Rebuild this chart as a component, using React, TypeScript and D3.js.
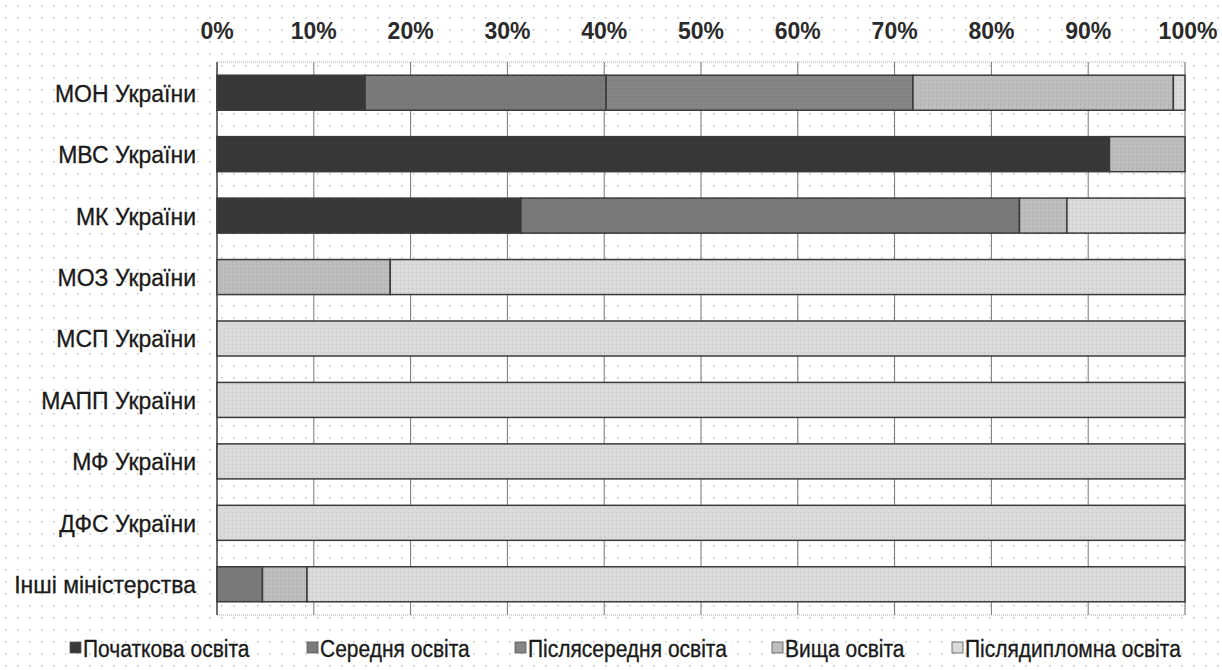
import React from "react";
import * as d3 from "d3";

const categories = [
  "МОН України",
  "МВС України",
  "МК України",
  "МОЗ України",
  "МСП України",
  "МАПП України",
  "МФ України",
  "ДФС України",
  "Інші міністерства",
];

const seriesNames = [
  "Початкова освіта",
  "Середня освіта",
  "Післясередня освіта",
  "Вища освіта",
  "Післядипломна освіта",
];

// shares, % of each ministry
const primary = [15.3, 92.2, 31.4, 0, 0, 0, 0, 0, 0];
const secondary = [24.9, 0, 51.5, 0, 0, 0, 0, 0, 4.7];
const postSecondary = [31.7, 0, 0, 0, 0, 0, 0, 0, 0];
const higher = [26.9, 7.8, 4.9, 17.9, 0, 0, 0, 0, 4.6];
const postGraduate = [1.2, 0, 12.2, 82.1, 100, 100, 100, 100, 90.7];

const tickValues = [0, 10, 20, 30, 40, 50, 60, 70, 80, 90, 100];

const colors = ["#383838", "#7a7a7a", "#858585", "#bdbdbd", "#dadada"];
const legendX = [70, 307, 515, 772, 952];

const W = 1222;
const H = 670;
const font = "'Liberation Sans', Arial, sans-serif";

export default function App() {
  const x = d3.scaleLinear().domain([0, 100]).range([217, 1185]);
  const y = d3
    .scaleBand<string>()
    .domain(categories)
    .range([62, 615])
    .paddingInner(0.43)
    .paddingOuter(0.215);

  const table = categories.map((c, i) => ({
    cat: c,
    s0: primary[i],
    s1: secondary[i],
    s2: postSecondary[i],
    s3: higher[i],
    s4: postGraduate[i],
  }));
  const keys = ["s0", "s1", "s2", "s3", "s4"];
  const stacked = d3.stack<any>().keys(keys)(table);

  const [x0, x1] = x.range();
  const [y0, y1] = y.range();

  return (
    <div style={{ position: "absolute", left: 0, top: 0 }}>
      <svg width={W} height={H} style={{ display: "block", background: "#fff" }}>
        <defs>
          <pattern id="dots" width="12" height="12" patternUnits="userSpaceOnUse">
            <rect x="5" y="5" width="1.5" height="1.5" fill="#c4c4c4" />
          </pattern>
          <pattern id="tex" width="4" height="4" patternUnits="userSpaceOnUse">
            <rect x="0" y="0" width="1" height="1" fill="#000" opacity="0.12" />
          </pattern>
        </defs>
        <rect width={W} height={H} fill="url(#dots)" />

        {/* plot border */}
        <rect
          x={x0}
          y={y0}
          width={x1 - x0}
          height={y1 - y0}
          fill="none"
          stroke="#aaa"
          strokeDasharray="1 1"
        />

        {/* gridlines */}
        {tickValues.map((t) => (
          <line
            key={t}
            x1={x(t)}
            x2={x(t)}
            y1={y0}
            y2={y1}
            stroke={t === 0 ? "#444" : "#777"}
            strokeWidth={t === 0 ? 1.5 : 1}
          />
        ))}

        {/* tick labels */}
        {tickValues.map((t) => (
          <text
            key={t}
            transform={`translate(${x(t) + (t === 100 ? 3 : 0)},39) scale(1,1.08)`}
            textAnchor="middle"
            fontFamily={font}
            fontWeight="bold"
            fontSize={23}
            fill="#2a2a2a"
          >
            {t}%
          </text>
        ))}

        {/* bars */}
        {stacked.map((layer, si) => (
          <g key={si}>
            {layer.map((d, i) =>
              d[1] - d[0] > 0 ? (
                <g key={i}>
                  <rect
                    x={x(d[0])}
                    y={y(categories[i])}
                    width={x(d[1]) - x(d[0])}
                    height={y.bandwidth()}
                    fill={colors[si]}
                  />
                  <rect
                    x={x(d[0])}
                    y={y(categories[i])}
                    width={x(d[1]) - x(d[0])}
                    height={y.bandwidth()}
                    fill="url(#tex)"
                    stroke="#3a3a3a"
                    strokeWidth={1.5}
                  />
                </g>
              ) : null
            )}
          </g>
        ))}

        {/* category labels */}
        {categories.map((c) => (
          <text
            key={c}
            transform={`translate(196,${(y(c) ?? 0) + y.bandwidth() / 2}) scale(1,1.08)`}
            dy="0.36em"
            textAnchor="end"
            fontFamily={font}
            fontSize={23}
            fill="#1a1a1a"
            stroke="#1a1a1a"
            strokeWidth={0.3}
          >
            {c}
          </text>
        ))}

        {/* legend */}
        {seriesNames.map((n, i) => (
          <g key={n} transform={`translate(${legendX[i]},648)`}>
            <rect x={0} y={-6} width={11} height={11} fill={colors[i]} stroke="#555" strokeWidth={0.8} />
            <text
              transform="translate(13,0) scale(1,1.15)"
              dy="0.36em"
              fontFamily={font}
              fontSize={21}
              fill="#1a1a1a"
              stroke="#1a1a1a"
              strokeWidth={0.3}
            >
              {n}
            </text>
          </g>
        ))}
      </svg>
    </div>
  );
}
